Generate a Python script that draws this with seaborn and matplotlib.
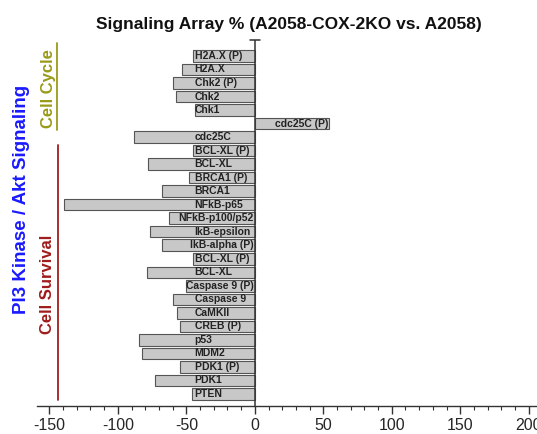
import matplotlib
matplotlib.use("Agg")
import matplotlib.pyplot as plt
from matplotlib.lines import Line2D
from matplotlib.ticker import MultipleLocator
import seaborn as sns
import pandas as pd

labels = ["H2A.X (P)", "H2A.X", "Chk2 (P)", "Chk2", "Chk1", "cdc25C (P)", "cdc25C",
          "BCL-XL (P)", "BCL-XL", "BRCA1 (P)", "BRCA1", "NFkB-p65", "NFkB-p100/p52",
          "IkB-epsilon", "IkB-alpha (P)", "BCL-XL (P)", "BCL-XL", "Caspase 9 (P)",
          "Caspase 9", "CaMKII", "CREB (P)", "p53", "MDM2", "PDK1 (P)", "PDK1", "PTEN"]
values = [-45, -53.5, -60, -57.5, -44, 54.5, -88.5,
          -45, -78, -48, -67.5, -139, -62.5,
          -76.5, -67.5, -45, -78.5, -50,
          -59.5, -56.5, -54.5, -84.5, -82.5, -54.5, -72.5, -45.5]
xticks = [-150, -100, -50, 0, 50, 100, 150, 200]

title = "Signaling Array % (A2058-COX-2KO vs. A2058)"

sns.set_theme(style="white")
plt.rcParams['font.family'] = ['Liberation Sans', 'DejaVu Sans']

W, H = 537, 434
fig = plt.figure(figsize=(W / 100, H / 100), dpi=100)
ax_left, ax_right, ax_top, ax_bot = 37, 537, 40, 406
ax = fig.add_axes([ax_left / W, 1 - ax_bot / H, (ax_right - ax_left) / W, (ax_bot - ax_top) / H])

df = pd.DataFrame({"row": [str(i) for i in range(len(labels))], "value": values, "label": labels})
sns.barplot(data=df, x="value", y="row", orient="h", color="#c8c8c8", saturation=1,
            edgecolor="#555555", linewidth=0.8, width=0.85, ax=ax)

n = len(labels)
ax.set_xlim(-159, 206)
ax.set_ylim(n - 1 + 0.89, -1.18)

for i, (lab, v) in enumerate(zip(labels, values)):
    if v > 0:
        ax.text(v - 1, i, lab, ha="right", va="center", fontsize=7.5, fontweight="bold", color="#222222")
    elif len(lab) <= 11:
        ax.text(-44, i, lab, ha="left", va="center", fontsize=7.5, fontweight="bold", color="#222222")
    else:
        ax.text(-1, i, lab, ha="right", va="center", fontsize=7.5, fontweight="bold", color="#222222")

ax.axvline(0, color="#333333", lw=1.1)
ax.plot([-3.5, 3.5], [-1.18, -1.18], color="#333333", lw=1.1, clip_on=False)

for s in ["top", "right", "left"]:
    ax.spines[s].set_visible(False)
ax.spines["bottom"].set_color("#333333")
ax.spines["bottom"].set_linewidth(1.0)
ax.set_yticks([])
ax.set_ylabel("")
ax.set_xlabel("")
ax.set_xticks(xticks)
ax.set_xticklabels([str(t) for t in xticks])
ax.xaxis.set_minor_locator(MultipleLocator(10))
ax.tick_params(axis="x", which="major", direction="out", length=6, width=1.0, color="#333333",
               labelsize=11.5, pad=3, bottom=True)
ax.tick_params(axis="x", which="minor", direction="out", length=3, width=0.8, color="#333333", bottom=True)

fig.text(289 / W, 1 - 24 / H, title, ha="center", va="center", fontsize=12.5, fontweight="bold", color="#111111")

fig.text(22 / W, 1 - 199 / H, "PI3 Kinase / Akt Signaling", rotation=90, ha="center", va="center",
         fontsize=13.5, fontweight="bold", color="#1a1aff")
fig.text(48 / W, 1 - 89 / H, "Cell Cycle", rotation=90, ha="center", va="center",
         fontsize=12, fontweight="bold", color="#9a9a18")
fig.text(48 / W, 1 - 284 / H, "Cell Survival", rotation=90, ha="center", va="center",
         fontsize=12, fontweight="bold", color="#a01c1c")
fig.add_artist(Line2D([57 / W, 57 / W], [1 - 43 / H, 1 - 130 / H], transform=fig.transFigure,
                      color="#9a9a18", lw=1.3))
fig.add_artist(Line2D([58 / W, 58 / W], [1 - 145 / H, 1 - 400 / H], transform=fig.transFigure,
                      color="#a01c1c", lw=1.3))

fig.savefig("out.png", dpi=100, facecolor="white")
